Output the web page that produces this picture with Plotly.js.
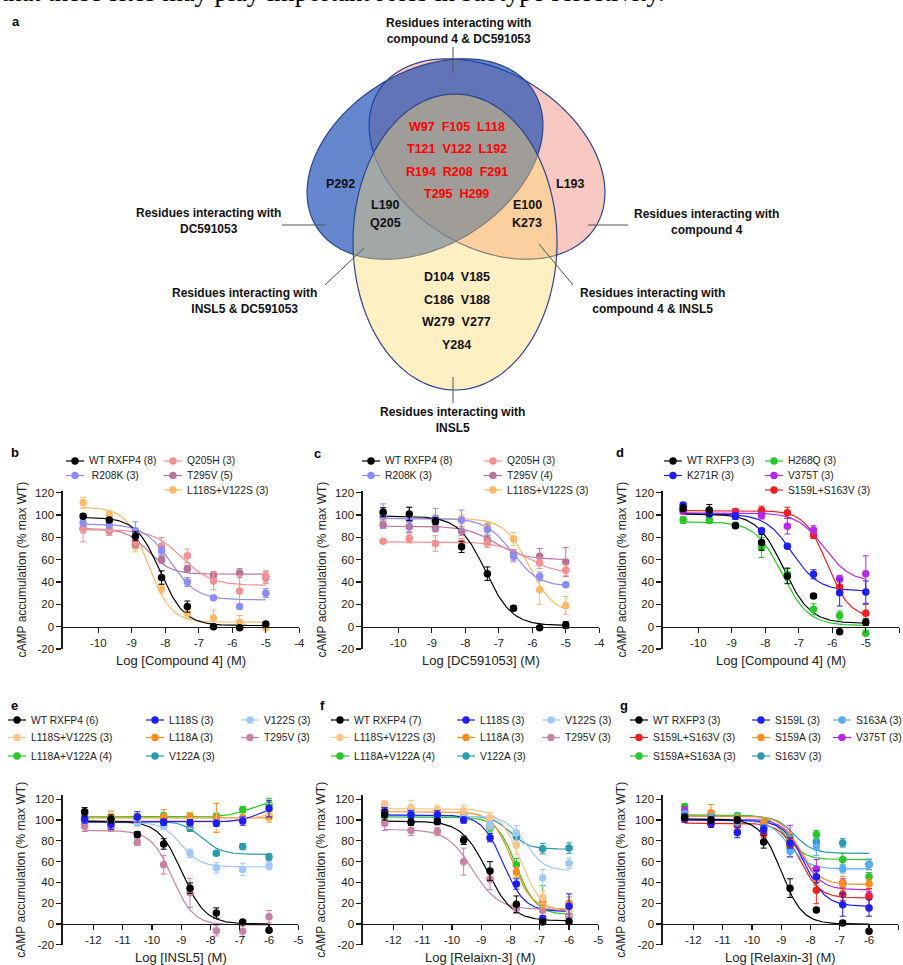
<!DOCTYPE html>
<html>
<head>
<meta charset="utf-8">
<script src="https://cdn.plot.ly/plotly-3.0.1.min.js"></script>
<style>html,body{margin:0;padding:0;background:#fff;}#chart{width:903px;height:965px;}</style>
</head>
<body>
<div id="chart"></div>
<script>
// ---------------- DATA ----------------
const topSentence = 'that these sites may play important roles in subtype selectivity.';

// Venn (panel a)
const vennSetLabels = ['Residues interacting with<br>compound 4 & DC591053', 'Residues interacting with<br>DC591053', 'Residues interacting with<br>compound 4', 'Residues interacting with<br>INSL5 & DC591053', 'Residues interacting with<br>compound 4 & INSL5', 'Residues interacting with<br>INSL5'];
const vennAllThree = ['W97 F105 L118', 'T121 V122 L192', 'R194 R208 F291', 'T295 H299'];
const vennDCOnly = ['P292'];
const vennCpdOnly = ['L193'];
const vennDCandINSL5 = ['L190', 'Q205'];
const vennCpdAndINSL5 = ['E100', 'K273'];
const vennINSL5Only = ['D104 V185', 'C186 V188', 'W279 V277', 'Y284'];

// log doses
const dosesCompound = [-10.45, -9.67, -8.89, -8.11, -7.34, -6.56, -5.78, -5.0];
const dosesPeptide = [-12.3, -11.4, -10.5, -9.6, -8.7, -7.8, -6.9, -6.0];

const yTicks = [-20, 0, 20, 40, 60, 80, 100, 120];
const yTickText = ['-20', '0', '20', '40', '60', '80', '100', '120'];
const xTicksCompound = [-10, -9, -8, -7, -6, -5, -4];
const xTickTextCompound = ['-10', '-9', '-8', '-7', '-6', '-5', '-4'];
const xTicksPeptide = [-12, -11, -10, -9, -8, -7, -6, -5];
const xTickTextPeptide = ['-12', '-11', '-10', '-9', '-8', '-7', '-6', '-5'];
const yTitle = 'cAMP accumulation (% max WT)';
const xTitles = ['Log [Compound 4] (M)', 'Log [DC591053] (M)', 'Log [Compound 4] (M)', 'Log [INSL5] (M)', 'Log [Relaixn-3] (M)', 'Log [Relaxin-3] (M)'];

// fit params: [plateau at low dose, plateau at high dose, logEC50, Hill slope]
// panel b
const bLabels = ['WT RXFP4 (8)', '\u00A0R208K (3)', 'Q205H (3)', 'T295V (5)', 'L118S+V122S (3)'];
const bMean = [
  [99, 95.5, 81, 44, 18, 0, -1, 2.5],
  [93, 91, 86, 68, 40, 26, 18, 30],
  [88, 87, 76, 72, 63.5, 41, 32, 45],
  [88, 86, 74, 60, 52, 46, 48, 44],
  [111, 100, 72, 34, 12, 8, 4, -1]];
const bSem = [
  [2, 2, 4, 6, 5, 1, 1, 1],
  [3, 3, 8, 4, 4, 2, 2, 4],
  [12, 5, 4, 8, 6, 8, 14, 5],
  [4, 4, 3, 3, 3, 3, 4, 5],
  [5, 3, 5, 4, 5, 7, 6, 2]];
const bFit = [[98, 1, -8.15, 1.2], [92, 24, -7.85, 1.1], [87, 37, -7.5, 1.0], [88, 47, -8.5, 1.3], [107, 4, -8.5, 1.3]];

// panel c
const cLabels = ['WT RXFP4 (8)', 'R208K (3)', 'Q205H (3)', 'T295V (4)', 'L118S+V122S (3)'];
const cMean = [
  [102.5, 101, 94.5, 71.5, 47.5, 16.5, -1, 1.5],
  [99, 96, 97, 95.5, 87, 63, 45, 37.5],
  [76.5, 79, 74.5, 75, 75, 63, 57, 50.5],
  [91, 89.5, 88, 85.5, 78, 65, 63, 58],
  [97, 97, 97, 96, 90, 78.5, 33, 19]];
const cSem = [
  [4, 6, 3, 5, 6, 2, 1, 3],
  [11, 11, 9, 9, 5, 4, 4, 2],
  [2, 4, 7, 4, 4, 5, 5, 5],
  [3, 5, 3, 4, 4, 4, 7, 13],
  [3, 3, 3, 4, 4, 6, 13, 8]];
const cFit = [[99, 1, -7.4, 1.1], [97, 36, -6.6, 1.1], [76, 48, -6.2, 1.0], [90, 60, -7.1, 1.0], [97, 12, -6.1, 1.2]];

// panel d
const dLabels = ['WT RXFP3 (3)', 'K271R (3)', 'H268Q (3)', 'V375T (3)', 'S159L+S163V (3)'];
const dMean = [
  [106, 104.5, 90.5, 75.5, 45.5, 27.5, -4.5, 4],
  [109, 101, 99, 86, 72, 47, 30.5, 31],
  [95.5, 95.5, 91, 71, 47, 15.5, 10, -6],
  [104, 103, 100, 99.5, 90, 86.5, 43, 47.5],
  [103.5, 103, 103, 104, 102, 82, 35.5, 12]];
const dSem = [
  [3, 5, 2, 7, 7, 2, 1, 3],
  [2, 2, 3, 2, 2, 4, 12, 10],
  [3, 3, 2, 9, 5, 5, 4, 2],
  [3, 3, 3, 3, 7, 4, 3, 16],
  [2, 2, 3, 4, 5, 3, 6, 8]];
const dFit = [[101, 3, -7.45, 1.1], [101, 32, -7.2, 1.1], [94, 1, -7.5, 1.1], [102, 40, -6.25, 1.1], [104, 8, -6.15, 1.3]];

// panel e
const eLabels = ['WT RXFP4 (6)', 'L118S (3)', 'V122S (3)', 'L118S+V122S (3)', 'L118A (3)', 'T295V (3)', 'L118A+V122A (4)', 'V122A (3)'];
const eMean = [
  [108, 101, 86, 77, 34.5, 10.5, 2, -6],
  [101, 96, 103, 98, 97.5, 97, 99, 111],
  [103, 99, 97, 94, 68, 54, 52.5, 56],
  [106, 104, 100, 95, 97, 98, 100, 107],
  [103, 103, 103, 103, 103, 102, 102, 103],
  [94, 93, 78.5, 57, 30, -6.5, -7, 7],
  [103, 103, 103, 104, 103, 104, 110, 115],
  [100, 100, 101, 101, 92, 68, 74.5, 64.5]];
const eSem = [
  [4, 4, 3, 5, 5, 5, 1, 2],
  [4, 5, 5, 3, 3, 3, 4, 8],
  [4, 3, 3, 3, 4, 5, 6, 4],
  [3, 5, 3, 3, 5, 9, 3, 9],
  [3, 5, 3, 7, 4, 14, 3, 5],
  [5, 4, 3, 9, 14, 5, 5, 6],
  [3, 3, 3, 3, 3, 3, 3, 6],
  [3, 3, 3, 3, 3, 2, 3, 3]];
const eFit = [[99, 0, -8.97, 1.1], [98, 115, -6.3, 1.2], [98, 55, -9.0, 1.3], [99, 108, -6.3, 1.2], [102, 102, -8, 1.0], [90, -1, -9.3, 1.2], [103, 118, -6.7, 1.2], [99, 67, -8.3, 1.3]];

// panel f
const fLabels = ['WT RXFP4 (7)', 'L118S (3)', 'V122S (3)', 'L118S+V122S (3)', 'L118A (3)', 'T295V (3)', 'L118A+V122A (4)', 'V122A (3)'];
const fMean = [
  [105, 98, 98.5, 80.5, 51, 19, 2, 2.5],
  [108, 105, 105, 100, 83, 38.5, 5, 17],
  [108, 106, 104, 102, 95, 87.5, 44.5, 58.5],
  [115.5, 112, 110.5, 109, 102, 76, 25.5, 14],
  [113, 110, 109, 106, 95, 50, 21, 20],
  [97, 90, 89, 60, 43, 15, 13, 8],
  [104, 104, 103, 104, 92.5, 57, 25, 8],
  [106, 104, 103, 101, 95, 84, 72.5, 73]];
const fSem = [
  [5, 3, 3, 4, 9, 8, 2, 2],
  [4, 4, 4, 3, 4, 5, 3, 12],
  [4, 4, 3, 3, 4, 7, 8, 5],
  [3, 7, 4, 5, 5, 9, 6, 6],
  [3, 3, 3, 3, 4, 5, 6, 6],
  [7, 5, 4, 13, 10, 5, 5, 4],
  [3, 3, 3, 5, 4, 6, 12, 4],
  [3, 3, 3, 3, 3, 6, 5, 5]];
const fFit = [[99, 3, -8.8, 1.0], [105, 12, -8.25, 1.2], [104, 51, -7.5, 1.3], [111, 11, -7.65, 1.2], [108, 14, -7.95, 1.3], [91, 14, -9.3, 1.0], [103, 9, -7.8, 1.3], [104, 72, -8.0, 1.4]];

// panel g
const gLabels = ['WT RXFP3 (3)', 'S159L (3)', 'S163A (3)', 'S159L+S163V (3)', 'S159A (3)', 'V375T (3)', 'S159A+S163A (3)', 'S163V (3)'];
const gMean = [
  [102.5, 100, 100, 79, 34.5, 13.5, 1, -7],
  [102, 97, 88, 91, 78, 45.5, 18.5, 15.5],
  [106, 102, 98, 92, 70, 74, 53, 57],
  [101, 96, 95, 87, 76, 32.5, 28.5, 26],
  [105, 107, 101, 97, 81, 42, 39, 38.5],
  [109, 104, 99, 93, 80, 53, 39.5, 27.5],
  [113, 105, 104, 95, 74, 86, 62, 45.5],
  [106, 105, 103, 97, 83, 79, 78, 57.5]];
const gSem = [
  [3, 3, 3, 6, 9, 2, 2, 2],
  [4, 4, 5, 4, 5, 6, 11, 8],
  [3, 4, 8, 4, 6, 8, 4, 5],
  [3, 3, 4, 4, 6, 13, 6, 8],
  [3, 8, 4, 4, 6, 5, 7, 5],
  [4, 4, 3, 4, 15, 9, 4, 4],
  [3, 3, 3, 4, 3, 4, 6, 4],
  [3, 3, 3, 3, 3, 5, 4, 5]];
const gFit = [[101, 0, -9.0, 1.2], [100, 17, -8.2, 1.2], [100, 53, -8.75, 1.3], [97, 25, -8.35, 1.3], [104, 38, -8.35, 1.3], [101, 33, -8.3, 1.3], [105, 62, -8.8, 1.4], [104, 68, -8.55, 1.4]];

// ---------------- STYLE / LAYOUT ----------------
const W = 903, H = 965;
const FONT = 'Arial, "Liberation Sans", Helvetica, sans-serif';
const TXT = '#222222';
const PX = x => x / W;
const PY = y => 1 - y / H;

const colorsB = ['#000000', '#8C8CF8', '#F59090', '#B8739A', '#FDBA6B'];
const colorsD = ['#000000', '#1E1EF0', '#28C828', '#B428E6', '#F01E1E'];
const colorsE = ['#000000', '#1E1EF0', '#A0C8F8', '#FDC58A', '#FF8C1E', '#C882A5', '#28C828', '#2A9AAE'];
const colorsG = ['#000000', '#1E1EF0', '#5AAAF0', '#F01E1E', '#FF8C1E', '#B428E6', '#28C828', '#2A9AAE'];
const legendPos5 = [[0, 0], [0, 1], [1, 0], [1, 1], [1, 2]];
const legendPos8 = [[0, 0], [1, 0], [2, 0], [0, 1], [1, 1], [2, 1], [0, 2], [1, 2]];

const panels = [
  {letter: 'b', lp: [15, 452], labels: bLabels, mean: bMean, sem: bSem, fit: bFit, doses: dosesCompound, colors: colorsB, lpos: legendPos5,
   x0: 62.7, x1: 299.3, y0: 490.5, y1: 649, yr: [-20, 122], xr: [-11.06, -4], xt: xTicksCompound, xtt: xTickTextCompound,
   cols: [75, 173], rows: [461, 475.5, 490], ytx: 21.7, xty: 660},
  {letter: 'c', lp: [317, 453], labels: cLabels, mean: cMean, sem: cSem, fit: cFit, doses: dosesCompound, colors: colorsB, lpos: legendPos5,
   x0: 362.7, x1: 599.3, y0: 490.5, y1: 649, yr: [-20, 122], xr: [-11.06, -4], xt: xTicksCompound, xtt: xTickTextCompound,
   cols: [371, 493], rows: [461, 475.5, 490], ytx: 321.7, xty: 660},
  {letter: 'd', lp: [620, 452], labels: dLabels, mean: dMean, sem: dSem, fit: dFit, doses: dosesCompound, colors: colorsD, lpos: legendPos5,
   x0: 662.7, x1: 899.3, y0: 490.5, y1: 649, yr: [-20, 122], xr: [-11.06, -4], xt: xTicksCompound, xtt: xTickTextCompound,
   cols: [673, 774], rows: [461, 475.5, 490], ytx: 621.7, xty: 660},
  {letter: 'e', lp: [14, 705], labels: eLabels, mean: eMean, sem: eSem, fit: eFit, doses: dosesPeptide, colors: colorsE, lpos: legendPos8,
   x0: 62.7, x1: 298.3, y0: 795.1, y1: 944.8, yr: [-20, 124], xr: [-13.05, -5], xt: xTicksPeptide, xtt: xTickTextPeptide,
   cols: [17, 155, 250], rows: [720, 737.5, 756], ytx: 20.7, xty: 957},
  {letter: 'f', lp: [322, 705], labels: fLabels, mean: fMean, sem: fSem, fit: fFit, doses: dosesPeptide, colors: colorsE, lpos: legendPos8,
   x0: 362.7, x1: 598.3, y0: 795.1, y1: 944.8, yr: [-20, 124], xr: [-13.05, -5], xt: xTicksPeptide, xtt: xTickTextPeptide,
   cols: [340, 466, 551], rows: [720, 737.5, 756], ytx: 320.7, xty: 957},
  {letter: 'g', lp: [624, 705], labels: gLabels, mean: gMean, sem: gSem, fit: gFit, doses: dosesPeptide, colors: colorsG, lpos: legendPos8,
   x0: 662.7, x1: 898.3, y0: 795.1, y1: 944.8, yr: [-20, 124], xr: [-13.05, -5], xt: xTicksPeptide, xtt: xTickTextPeptide,
   cols: [639, 761, 842], rows: [720, 737.5, 756], ytx: 620.7, xty: 957}
];

function fitCurve(doses, p) {
  const lo = Math.min(...doses), hi = Math.max(...doses);
  const xs = [], ys = [];
  for (let i = 0; i <= 160; i++) {
    const x = lo + (hi - lo) * i / 160;
    xs.push(x);
    ys.push(p[1] + (p[0] - p[1]) / (1 + Math.pow(10, (x - p[2]) * p[3])));
  }
  return {xs, ys};
}

const traces = [];
const shapes = [];
const annotations = [];
const layout = {
  width: W, height: H, margin: {l: 0, r: 0, t: 0, b: 0},
  paper_bgcolor: '#ffffff', plot_bgcolor: 'rgba(0,0,0,0)', showlegend: false,
  font: {family: FONT, color: TXT, size: 11}
};

function ann(text, x, y, opts) {
  annotations.push(Object.assign({text: text, x: PX(x), y: PY(y), xref: 'paper', yref: 'paper', showarrow: false,
    xanchor: 'center', yanchor: 'middle', font: {family: FONT, size: 11, color: TXT}}, opts || {}));
}

panels.forEach((P, k) => {
  const s = k === 0 ? '' : String(k + 1);
  const xa = 'x' + s, ya = 'y' + s;
  const zeroPx = P.y0 + (P.yr[1] - 0) / (P.yr[1] - P.yr[0]) * (P.y1 - P.y0);
  const axCommon = {showline: true, linecolor: '#1a1a1a', linewidth: 1.3, ticks: 'outside', ticklen: 5, tickwidth: 1.3,
    tickcolor: '#1a1a1a', showgrid: false, zeroline: false, fixedrange: true, tickfont: {family: FONT, size: 11.5, color: TXT}};
  layout['xaxis' + s] = Object.assign({}, axCommon, {domain: [PX(P.x0), PX(P.x1)], range: P.xr, anchor: 'free',
    position: PY(zeroPx), tickmode: 'array', tickvals: P.xt, ticktext: P.xtt});
  layout['yaxis' + s] = Object.assign({}, axCommon, {domain: [PY(P.y1), PY(P.y0)], range: P.yr, anchor: xa,
    tickmode: 'array', tickvals: yTicks, ticktext: yTickText});

  const n = P.labels.length;
  for (let i = n - 1; i >= 0; i--) {
    const c = fitCurve(P.doses, P.fit[i]);
    traces.push({type: 'scatter', mode: 'lines', x: c.xs, y: c.ys, xaxis: xa, yaxis: ya,
      line: {color: P.colors[i], width: 1.2}, hoverinfo: 'skip', cliponaxis: false});
  }
  for (let i = n - 1; i >= 0; i--) {
    traces.push({type: 'scatter', mode: 'markers', x: P.doses, y: P.mean[i], xaxis: xa, yaxis: ya, name: P.labels[i],
      marker: {color: P.colors[i], size: 7.5, line: {width: 0}}, cliponaxis: false,
      error_y: {type: 'data', array: P.sem[i], visible: true, color: P.colors[i], thickness: 1, width: 3}});
  }
  for (let i = 0; i < n; i++) {
    const mx = P.cols[P.lpos[i][0]], my = P.rows[P.lpos[i][1]];
    shapes.push({type: 'line', xref: 'paper', yref: 'paper', x0: PX(mx - 9), x1: PX(mx + 9), y0: PY(my), y1: PY(my),
      line: {color: P.colors[i], width: 1.2}});
    shapes.push({type: 'circle', xref: 'paper', yref: 'paper', xsizemode: 'pixel', ysizemode: 'pixel',
      xanchor: PX(mx), yanchor: PY(my), x0: -3.7, x1: 3.7, y0: -3.7, y1: 3.7, fillcolor: P.colors[i], line: {width: 0}});
    ann(P.labels[i], mx + 12, my, {xanchor: 'left', font: {family: FONT, size: 10.3, color: TXT}});
  }
  ann(xTitles[k], (P.x0 + P.x1) / 2, P.xty, {font: {family: FONT, size: 13, color: TXT}});
  ann(yTitle, P.ytx, (P.y0 + P.y1) / 2, {textangle: -90, font: {family: FONT, size: 12, color: TXT}});
  ann('<b>' + P.letter + '</b>', P.lp[0], P.lp[1], {font: {family: FONT, size: 13, color: '#000'}});
});

// ---------------- VENN (panel a) ----------------
function ellipsePath(cx, cy, a, b, phiDeg) {
  const phi = phiDeg * Math.PI / 180;
  let d = '';
  for (let i = 0; i <= 200; i++) {
    const t = 2 * Math.PI * i / 200;
    const ex = a * Math.cos(t), ey = b * Math.sin(t);
    const sx = cx + ex * Math.cos(phi) - ey * Math.sin(phi);
    const sy = cy - (ex * Math.sin(phi) + ey * Math.cos(phi));
    d += (i ? 'L' : 'M') + PX(sx).toFixed(5) + ',' + PY(sy).toFixed(5);
  }
  return d + 'Z';
}
const outline = {color: 'rgb(47,68,140)', width: 1.2};
shapes.push({type: 'path', xref: 'paper', yref: 'paper', path: ellipsePath(487, 159, 128, 87, 148), fillcolor: 'rgba(236,110,95,0.38)', line: outline});
shapes.push({type: 'path', xref: 'paper', yref: 'paper', path: ellipsePath(425, 159, 128, 87, 32), fillcolor: 'rgba(17,71,178,0.65)', line: outline});
shapes.push({type: 'path', xref: 'paper', yref: 'paper', path: ellipsePath(455, 242, 102, 148, 0), fillcolor: 'rgba(255,217,105,0.4)', line: outline});

const leaders = [[453, 47, 453, 73], [282, 225, 325, 225], [588, 225, 628, 225], [325, 285, 364, 248], [573, 285, 539, 244], [453, 377, 453, 403]];
leaders.forEach(L => shapes.push({type: 'line', xref: 'paper', yref: 'paper', x0: PX(L[0]), y0: PY(L[1]), x1: PX(L[2]), y1: PY(L[3]), line: {color: '#555', width: 1}}));

const setLabelPos = [[458, 31], [208, 221], [706, 221.5], [245, 301], [652, 301], [453, 420]];
vennSetLabels.forEach((t, i) => ann('<b>' + t + '</b>', setLabelPos[i][0], setLabelPos[i][1], {font: {family: FONT, size: 12, color: '#111'}}));

const vb = (t) => '<b>' + t.replace(/ /g, '\u00A0\u00A0') + '</b>';
vennAllThree.forEach((t, i) => ann(vb(t), 457, 127 + i * 22.3, {font: {family: FONT, size: 12.5, color: '#FF0000'}}));
ann(vb(vennDCOnly[0]), 340, 183.5, {font: {family: FONT, size: 12.5, color: '#111'}});
ann(vb(vennCpdOnly[0]), 570, 183.5, {font: {family: FONT, size: 12.5, color: '#111'}});
vennDCandINSL5.forEach((t, i) => ann(vb(t), 385, 205 + i * 18.5, {font: {family: FONT, size: 12.5, color: '#111'}}));
vennCpdAndINSL5.forEach((t, i) => ann(vb(t), 527, 205 + i * 18.5, {font: {family: FONT, size: 12.5, color: '#111'}}));
vennINSL5Only.forEach((t, i) => ann(vb(t), 457, 277 + i * 22.7, {font: {family: FONT, size: 12.5, color: '#111'}}));
ann('<b>a</b>', 16, 22, {font: {family: FONT, size: 13, color: '#000'}});

// clipped running text at top of page
ann(topSentence, -1, -8, {xanchor: 'left', font: {family: '"Liberation Serif", "Times New Roman", serif', size: 26.5, color: '#000'}});

layout.shapes = shapes;
layout.annotations = annotations;

Plotly.newPlot('chart', traces, layout, {staticPlot: true, displayModeBar: false});
</script>
</body>
</html>
